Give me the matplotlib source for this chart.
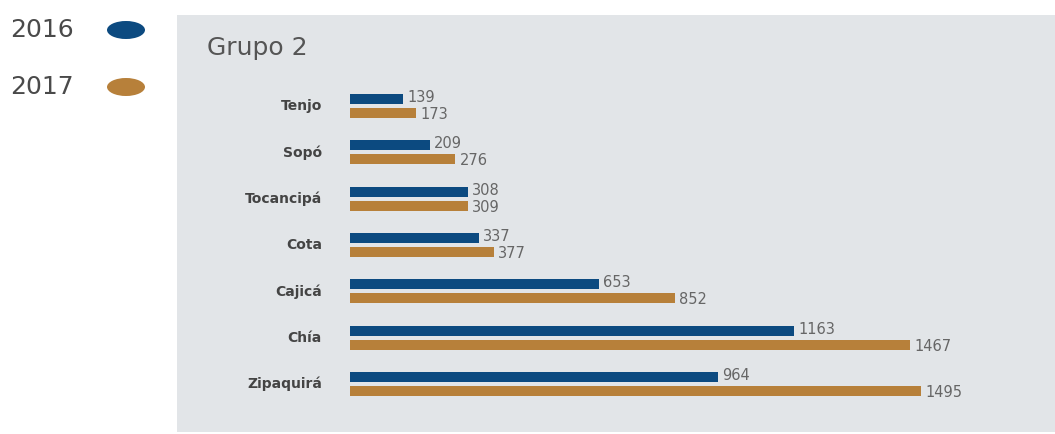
'''Grupo 2 bar chart, 2016 vs 2017'''

import matplotlib
matplotlib.use('Agg')
import matplotlib.pyplot as plt
from matplotlib.patches import Rectangle, Ellipse

municipios = ['Tenjo', 'Sopó', 'Tocancipá', 'Cota', 'Cajicá', 'Chía', 'Zipaquirá']
v2016 = [139, 209, 308, 337, 653, 1163, 964]
v2017 = [173, 276, 309, 377, 852, 1467, 1495]
years = ['2016', '2017']

BLUE = '#0c4a80'
ORANGE = '#b7803a'
PANEL = '#e2e5e8'

W, H = 1055, 434
fig = plt.figure(figsize=(W / 100, H / 100), dpi=100)
fig.patch.set_facecolor('white')

def fx(px):
    return px / W

def fy(py):
    return 1 - py / H

# grey panel
fig.patches.append(Rectangle((fx(177), fy(432)), fx(W - 177), (432 - 15) / H,
                             transform=fig.transFigure, facecolor=PANEL,
                             edgecolor='none', zorder=-5))

# legend on the left
for i, (yr, col) in enumerate(zip(years, [BLUE, ORANGE])):
    cy = 30 + 57 * i
    fig.text(fx(10), fy(cy), yr, fontsize=18, color='#4a4a4a', va='center', ha='left')
    fig.patches.append(Ellipse((fx(126), fy(cy)), 38 / W, 18 / H,
                               transform=fig.transFigure, facecolor=col,
                               edgecolor='none', zorder=2))

fig.text(fx(207), fy(48), 'Grupo 2', fontsize=18, color='#555555', va='center', ha='left')

# bars
row = 46.3
top = 106 - row / 2
bottom = 384 + row / 2
left, right = 350, 1000
scale = 571 / 1495
ax = fig.add_axes([fx(left), fy(bottom), fx(right - left), (bottom - top) / H])
ax.set_zorder(3)
ax.set_xlim(0, (right - left) / scale)
ax.set_ylim(len(municipios) - 0.5, -0.5)
ax.axis('off')

bh = 10 / row
off = 7 / row
ys = list(range(len(municipios)))
ax.barh([y - off for y in ys], v2016, height=bh, color=BLUE)
ax.barh([y + off for y in ys], v2017, height=bh, color=ORANGE)

pad = 4 / scale
for y, a, b, name in zip(ys, v2016, v2017, municipios):
    ax.text(a + pad, y - off - 0.03, str(a), fontsize=10.5, color='#666666', va='center', ha='left')
    ax.text(b + pad, y + off + 0.03, str(b), fontsize=10.5, color='#666666', va='center', ha='left')
    ax.text(-28 / scale, y, name, fontsize=10, fontweight='bold', color='#444444',
            va='center', ha='right')

fig.savefig('out.png', dpi=100)
